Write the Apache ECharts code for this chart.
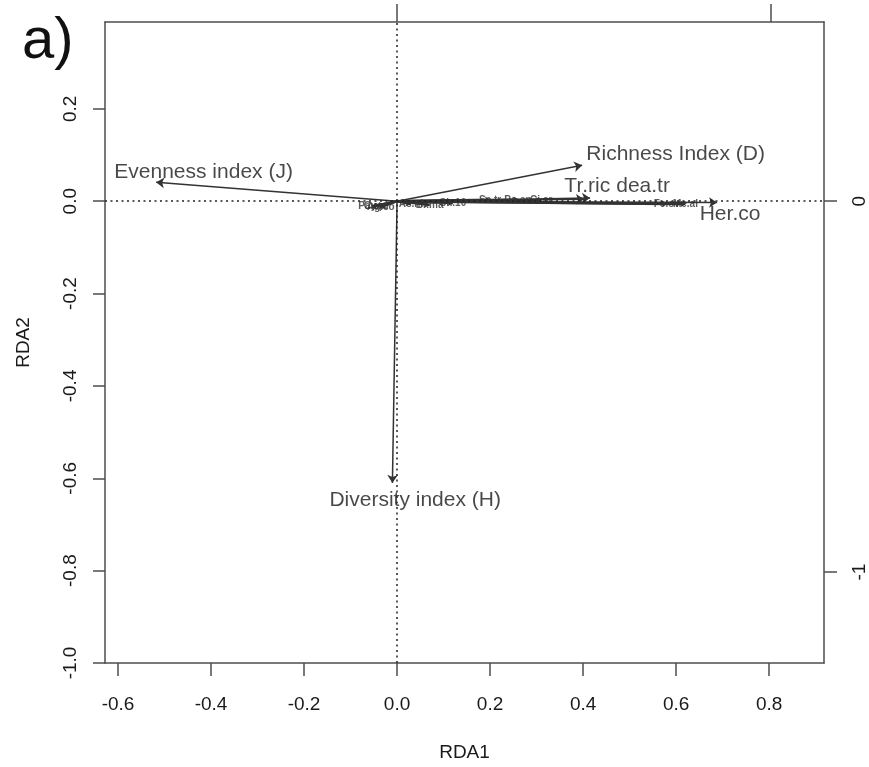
<!DOCTYPE html>
<html>
<head>
<meta charset="utf-8">
<script src="https://cdn.jsdelivr.net/npm/echarts@6/dist/echarts.min.js"></script>
<style>
  html, body { margin: 0; padding: 0; background: #fff; }
  #chart { width: 869px; height: 767px; }
</style>
</head>
<body>
<div id="chart"></div>
<script>
// axis ticks
const xTicks = [-0.6, -0.4, -0.2, 0, 0.2, 0.4, 0.6, 0.8];
const yTicks = [-1.0, -0.8, -0.6, -0.4, -0.2, 0, 0.2];
const topTicks = [0, 1];
const rightTicks = [-1, 0];
const xRange = [-0.628, 0.918];
const yRange = [-1.0, 0.388];
const secScale = 1.245; // top / right axes scale

// biplot arrows (RDA1, RDA2)
const arrowNames = ['Evenness index (J)', 'Richness Index (D)', 'Diversity index (H)', 'Tr.ric', 'dea.tr', 'Her.co'];
const arrowX = [-0.518, 0.398, -0.010, 0.415, 0.402, 0.688];
const arrowY = [0.041, 0.078, -0.610, 0.007, 0.004, -0.003];
const labelX = [-0.416, 0.599, 0.039, 0.409, 0.529, 0.716];
const labelY = [0.063, 0.102, -0.647, 0.033, 0.033, -0.029];

// crowded short arrows near the origin
const minorNames = ['Pa.sp', 'Cy.ro', 'Ag.co', 'Ac.ni', 'Br.ma', 'Sh.10', 'Sa.tr', 'Po.an', 'Ci.ar', 'Fe.ov', 'Me.al'];
const minorX = [-0.055, -0.045, -0.035, 0.03, 0.07, 0.12, 0.20, 0.26, 0.31, 0.58, 0.62];
const minorY = [-0.012, -0.010, -0.013, -0.006, -0.008, -0.004, 0.003, 0.003, 0.002, -0.006, -0.006];

const chart = echarts.init(document.getElementById('chart'));

const font = "'Liberation Sans', Arial, sans-serif";
const axisColor = '#4d4d4d';
const textColor = '#1a1a1a';

const mkLines = (xs, ys) => xs.map((x, i) => ({ coords: [[0, 0], [x, ys[i]]] }));

let option = {
  animation: false,
  backgroundColor: '#fff',
  textStyle: { fontFamily: font },
  graphic: [{
    type: 'text',
    left: 22,
    top: 13,
    style: { text: 'a)', font: "58px 'Liberation Sans', Arial", fill: '#111' }
  }],
  grid: { left: 105, top: 22, width: 719, height: 646 },
  xAxis: [
    {
      type: 'value', position: 'bottom', min: xRange[0], max: xRange[1],
      splitLine: { show: false },
      axisLine: { show: true, onZero: false, lineStyle: { color: axisColor, width: 1.5 } },
      axisTick: { show: true, length: 13, customValues: xTicks, lineStyle: { color: axisColor, width: 1.5 } },
      axisLabel: { customValues: xTicks, margin: 32, fontSize: 19, color: textColor, formatter: v => v.toFixed(1) },
      name: 'RDA1', nameLocation: 'middle', nameGap: 80,
      nameTextStyle: { fontSize: 19, color: textColor }
    },
    {
      type: 'value', position: 'top', min: xRange[0] * secScale, max: xRange[1] * secScale,
      splitLine: { show: false },
      axisLine: { show: true, onZero: false, lineStyle: { color: axisColor, width: 1.5 } },
      axisTick: { show: true, length: 18, customValues: topTicks, lineStyle: { color: axisColor, width: 1.5 } },
      axisLabel: { show: false }
    }
  ],
  yAxis: [
    {
      type: 'value', position: 'left', min: yRange[0], max: yRange[1],
      splitLine: { show: false },
      axisLine: { show: true, onZero: false, lineStyle: { color: axisColor, width: 1.5 } },
      axisTick: { show: true, length: 12, customValues: yTicks, lineStyle: { color: axisColor, width: 1.5 } },
      axisLabel: { customValues: yTicks, rotate: 90, margin: 25, fontSize: 19, color: textColor, formatter: v => v.toFixed(1) },
      name: 'RDA2', nameLocation: 'middle', nameGap: 72, nameRotate: 90,
      nameTextStyle: { fontSize: 19, color: textColor }
    },
    {
      type: 'value', position: 'right', min: yRange[0] * secScale, max: yRange[1] * secScale,
      splitLine: { show: false },
      axisLine: { show: true, onZero: false, lineStyle: { color: axisColor, width: 1.5 } },
      axisTick: { show: true, length: 13, customValues: rightTicks, lineStyle: { color: axisColor, width: 1.5 } },
      axisLabel: { customValues: rightTicks, rotate: 90, margin: 26, fontSize: 19, color: textColor, formatter: v => String(v) }
    }
  ],
  series: [
    {
      // zero reference lines
      type: 'scatter', xAxisIndex: 0, yAxisIndex: 0, data: [], silent: true,
      markLine: {
        silent: true, symbol: 'none', label: { show: false },
        lineStyle: { color: '#222', width: 1.5, type: [2, 3.5] },
        data: [{ xAxis: 0 }, { yAxis: 0 }]
      }
    },
    {
      // crowded minor arrows
      type: 'lines', coordinateSystem: 'cartesian2d', xAxisIndex: 0, yAxisIndex: 0,
      symbol: ['none', 'arrow'], symbolSize: 5, silent: true,
      lineStyle: { color: '#333', width: 2.5, opacity: 1 },
      data: mkLines(minorX, minorY)
    },
    {
      type: 'scatter', xAxisIndex: 0, yAxisIndex: 0, symbolSize: 1, silent: true,
      itemStyle: { color: 'rgba(0,0,0,0)' },
      label: { show: true, position: 'inside', formatter: '{b}', fontSize: 10, fontWeight: 'bold', color: '#333' },
      data: minorNames.map((n, i) => ({ name: n, value: [minorX[i], minorY[i]] }))
    },
    {
      // main biplot arrows
      type: 'lines', coordinateSystem: 'cartesian2d', xAxisIndex: 0, yAxisIndex: 0,
      symbol: ['none', 'arrow'], symbolSize: 8, silent: true,
      lineStyle: { color: '#333', width: 1.5, opacity: 1 },
      data: mkLines(arrowX, arrowY)
    },
    {
      type: 'scatter', xAxisIndex: 0, yAxisIndex: 0, symbolSize: 1, silent: true,
      itemStyle: { color: 'rgba(0,0,0,0)' },
      label: { show: true, position: 'inside', formatter: '{b}', fontSize: 21, color: textColor },
      data: arrowNames.map((n, i) => ({ name: n, value: [labelX[i], labelY[i]] }))
    }
  ]
};

chart.setOption(option);
</script>
</body>
</html>
